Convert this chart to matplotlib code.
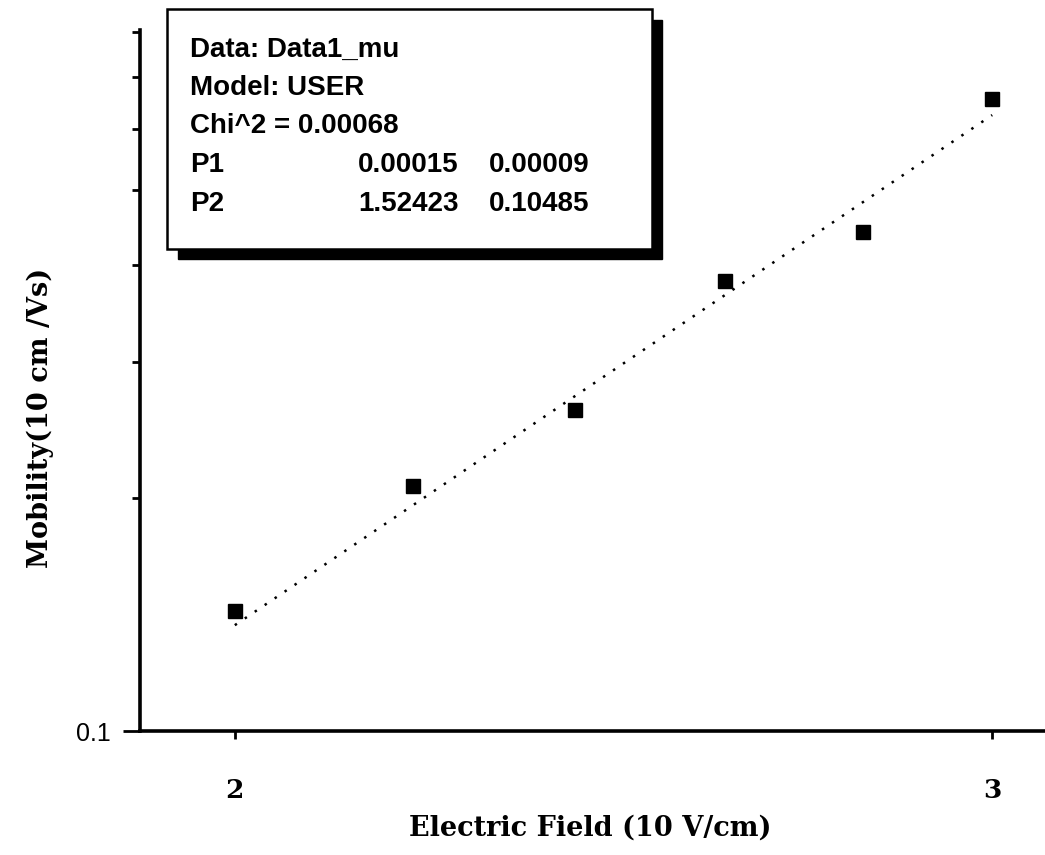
import numpy as np
import matplotlib
matplotlib.use("Agg")
import matplotlib.pyplot as plt
from matplotlib.patches import Rectangle
from matplotlib.ticker import FixedLocator, NullFormatter, FixedFormatter

# datos
campo = [2.0, 2.2, 2.4, 2.6, 2.8, 3.0]
movilidad = [0.143, 0.207, 0.260, 0.381, 0.441, 0.655]
# recta de ajuste (log-log)
ajuste_x = [2.0, 3.0]
ajuste_y = [0.137, 0.625]

lineas_caja = ["Data: Data1_mu", "Model: USER", "Chi^2 = 0.00068"]
parametros = ["P1", "P2"]
valores = ["0.00015", "1.52423"]
errores = ["0.00009", "0.10485"]

W, H = 1045, 855
fig = plt.figure(figsize=(W / 100, H / 100), dpi=100, facecolor='w')
ax = fig.add_axes([140 / W, 1 - 731 / H, 1 - 140 / W, (731 - 30) / H])

ax.set_xscale('log')
ax.set_yscale('log')
ax.set_xlim(1.901, 3.086)
ax.set_ylim(0.1, 0.805)

ax.plot(ajuste_x, ajuste_y, color='k', lw=1.8, linestyle=(0, (1, 3.8)))
ax.plot(campo, movilidad, 's', color='k', ms=10.5, mec='k')

# ejes
for s in ['top', 'right']:
    ax.spines[s].set_visible(False)
for s in ['left', 'bottom']:
    ax.spines[s].set_linewidth(2.6)

ax.xaxis.set_major_locator(FixedLocator([2, 3]))
ax.xaxis.set_major_formatter(FixedFormatter(['2', '3']))
ax.xaxis.set_minor_locator(FixedLocator([]))
ax.yaxis.set_major_locator(FixedLocator([0.1]))
ax.yaxis.set_major_formatter(FixedFormatter(['0.1']))
ax.yaxis.set_minor_locator(FixedLocator([0.2, 0.3, 0.4, 0.5, 0.6, 0.7, 0.8]))
ax.yaxis.set_minor_formatter(NullFormatter())

ax.tick_params(axis='x', which='major', length=6, width=2, pad=28)
ax.tick_params(axis='y', which='major', length=12, width=2, pad=9)
ax.tick_params(axis='y', which='minor', length=6, width=2)
for t in ax.get_xticklabels():
    t.set_fontfamily('DejaVu Serif')
    t.set_fontweight('bold')
    t.set_fontsize(19)
for t in ax.get_yticklabels():
    t.set_fontfamily('Liberation Sans')
    t.set_fontsize(18)

fig.text(590 / W, 1 - 828 / H, "Electric Field (10 V/cm)", ha='center', va='center',
         fontfamily='DejaVu Serif', fontweight='bold', fontsize=19.5)
fig.text(40 / W, 1 - 418 / H, "Mobility(10 cm /Vs)", ha='center', va='center',
         rotation=90, fontfamily='DejaVu Serif', fontweight='bold', fontsize=19.5)

# caja de resultados con sombra
sombra = Rectangle((178 / W, 1 - 259 / H), (662 - 178) / W, (259 - 20) / H,
                   transform=fig.transFigure, facecolor='k', edgecolor='k', zorder=5)
caja = Rectangle((167 / W, 1 - 249 / H), (652 - 167) / W, (249 - 9) / H,
                 transform=fig.transFigure, facecolor='w', edgecolor='k', lw=1.8, zorder=6)
fig.patches.extend([sombra, caja])

fs = 20
ys = [50, 88, 126, 165, 204]
for i, txt in enumerate(lineas_caja):
    fig.text(190 / W, 1 - ys[i] / H, txt, ha='left', va='center', fontsize=fs,
             fontfamily='Liberation Sans', fontweight='bold', zorder=7)
for i in range(2):
    y = 1 - ys[3 + i] / H
    fig.text(190 / W, y, parametros[i], ha='left', va='center', fontsize=fs,
             fontfamily='Liberation Sans', fontweight='bold', zorder=7)
    fig.text(358 / W, y, valores[i], ha='left', va='center', fontsize=fs,
             fontfamily='Liberation Sans', fontweight='bold', zorder=7)
    fig.text(489 / W, y, errores[i], ha='left', va='center', fontsize=fs,
             fontfamily='Liberation Sans', fontweight='bold', zorder=7)

fig.savefig('out.png', dpi=100, facecolor='w')
